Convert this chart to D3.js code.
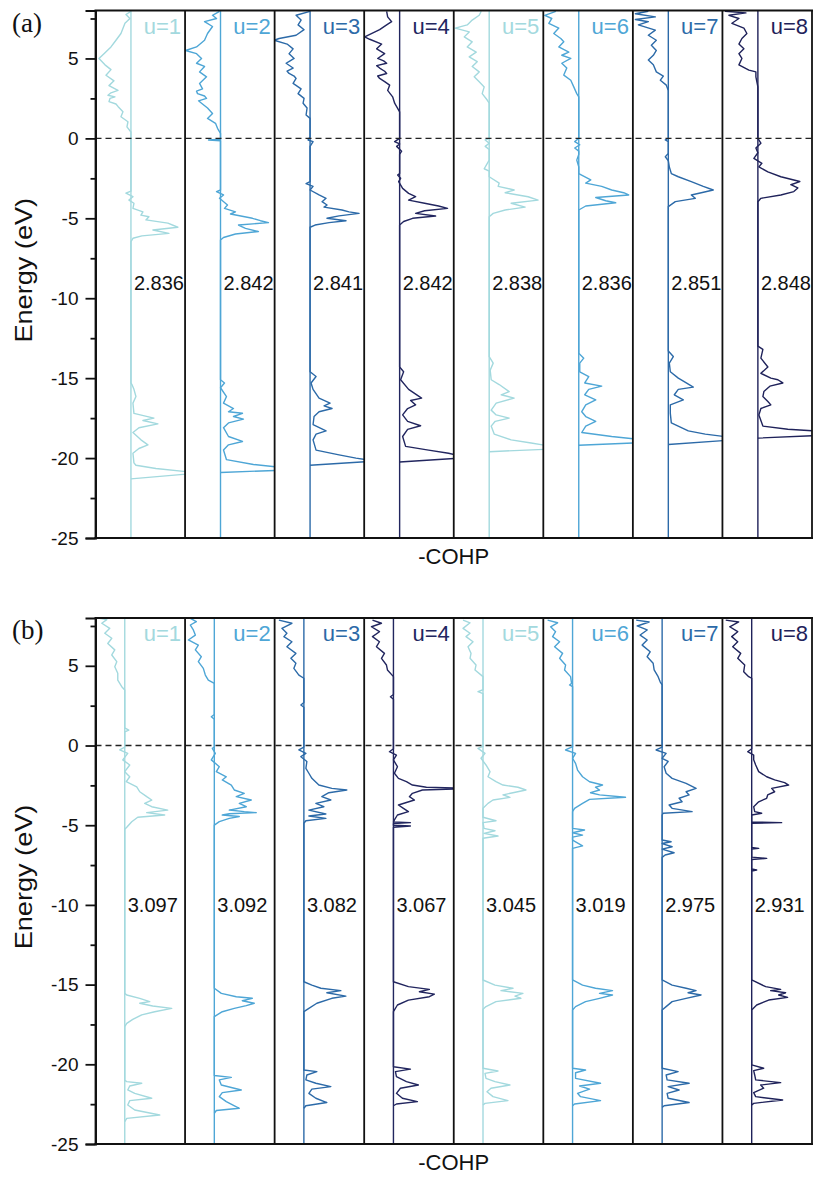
<!DOCTYPE html>
<html>
<head>
<meta charset="utf-8">
<script src="https://cdn.jsdelivr.net/npm/d3@7"></script>
<style>
  body { margin: 0; background: #fff; }
  svg { display: block; }
</style>
</head>
<body>
<svg id="chart" width="813" height="1178"></svg>
<script>
// ---------------- DATA ----------------
const uLabels = ["u=1", "u=2", "u=3", "u=4", "u=5", "u=6", "u=7", "u=8"];
const bondA = ["2.836", "2.842", "2.841", "2.842", "2.838", "2.836", "2.851", "2.848"];
const bondB = ["3.097", "3.092", "3.082", "3.067", "3.045", "3.019", "2.975", "2.931"];
const majorTicks = [-25, -20, -15, -10, -5, 0, 5];
const minorTicks = [-22.5, -17.5, -12.5, -7.5, -2.5, 2.5, 7.5];
const energyDomain = [-25, 8];
const cohpDomainA = [-3.55, 5.42];
const cohpDomainB = [-2.93, 6.04];

// [energy (eV), -COHP] pairs, panel (a)
const cohpA1 = [[7.95,0],[7.75,-0.5],[7.5,-0.1],[7.2,-0.6],[6.56,-1.0],[6.14,-1.5],[5.72,-2.0],[5.3,-2.7],[5.0,-3.2],[4.6,-2.6],[4.3,-2.0],[3.95,-2.5],[3.6,-1.7],[3.3,-2.2],[3.0,-1.3],[2.85,-2.0],[2.7,-2.3],[2.6,-1.6],[2.5,-2.1],[2.3,-2.2],[2.15,-1.5],[2.0,-1.3],[1.66,-0.8],[1.35,-1.0],[1.04,-0.3],[0.72,-0.4],[0.4,0],
 [-3.3,0],[-3.43,-0.5],[-3.65,0.2],[-3.86,-0.2],[-4.06,0.3],[-4.38,0.2],[-4.6,1.2],[-4.8,1.0],[-4.9,1.8],[-5.1,1.5],[-5.3,3.7],[-5.56,4.7],[-5.73,2.2],[-5.94,3.8],[-6.1,1.1],[-6.25,0.2],[-6.46,0],
 [-15.3,0],[-15.4,0.1],[-15.7,0.3],[-16.15,0.5],[-16.56,0.2],[-17.2,0.3],[-17.5,2.3],[-17.65,1.2],[-17.86,2.7],[-18.1,0.8],[-18.4,0.2],[-18.86,1.0],[-19.17,1.7],[-19.4,0.8],[-19.7,0.2],[-20.3,0.3],[-20.45,0.5],[-20.65,2.5],[-20.85,5.5],[-20.95,6.5],[-21.3,0]];
const cohpA2 = [[7.95,-0.1],[7.7,-0.8],[7.5,-0.4],[7.3,-1.6],[7.0,-0.8],[6.56,-1.3],[6.14,-1.6],[5.72,-2.4],[5.5,-3.5],[5.3,-2.4],[5.0,-1.9],[4.7,-2.4],[4.5,-1.6],[4.16,-2.1],[3.85,-1.4],[3.44,-2.1],[3.1,-1.8],[2.95,-2.4],[2.8,-2.3],[2.65,-1.6],[2.5,-1.4],[2.35,-2.2],[2.2,-1.9],[1.9,-1.3],[1.56,-0.8],[1.25,-1.3],[0.94,-0.5],[0.63,-0.3],[0.31,0],[-0.05,0],[-0.1,-1.2],[-0.15,0],
 [-3.23,0],[-3.33,-0.4],[-3.54,0.3],[-3.75,-0.1],[-4.17,0.7],[-4.38,0.4],[-4.6,1.5],[-4.73,1.0],[-5.0,3.2],[-5.15,4.0],[-5.27,4.8],[-5.42,1.8],[-5.63,2.5],[-5.83,3.8],[-5.98,1.5],[-6.2,0.3],[-6.36,0],
 [-15.1,0],[-15.3,0.4],[-15.6,0],[-16.15,0.6],[-16.56,0.3],[-16.9,1.3],[-17.1,0.8],[-17.2,2.2],[-17.4,1.3],[-17.56,2.3],[-17.8,0.8],[-18.1,0.3],[-18.65,0.8],[-18.96,2.2],[-19.17,0.8],[-19.5,0.3],[-20.1,0.6],[-20.4,3.3],[-20.55,5.5],[-20.75,6.5],[-20.9,0]];
const cohpA3 = [[7.95,0],[7.7,-1.4],[7.4,-0.9],[7.1,-1.2],[6.8,-0.6],[6.45,-1.4],[6.25,-3.1],[6.14,-3.6],[5.9,-2.3],[5.6,-1.7],[5.3,-2.1],[5.0,-1.6],[4.85,-2.0],[4.7,-2.4],[4.4,-1.7],[4.2,-2.3],[4.06,-2.1],[3.9,-1.6],[3.75,-1.4],[3.44,-1.7],[3.1,-0.9],[2.8,-1.2],[2.5,-0.6],[2.2,-0.7],[1.9,-0.3],[1.46,-0.4],[1.25,0],[0.1,0],[-0.1,-0.2],[-0.2,0.3],[-0.5,0],
 [-2.7,0],[-2.83,-0.4],[-3.0,0.3],[-3.23,0],[-3.54,0.9],[-3.75,1.6],[-3.96,1.2],[-4.17,1.7],[-4.3,1.4],[-4.48,3.2],[-4.6,3.9],[-4.69,4.9],[-4.85,2.9],[-5.0,1.7],[-5.15,3.6],[-5.27,1.9],[-5.42,0.5],[-5.56,0],
 [-14.6,0],[-14.9,0.6],[-15.3,0.1],[-15.7,0.3],[-16.25,0.9],[-16.56,2.0],[-16.73,1.4],[-16.9,2.2],[-17.1,0.9],[-17.4,0.4],[-17.9,0.3],[-18.3,1.6],[-18.5,0.6],[-18.86,0.3],[-19.5,0.6],[-19.8,2.9],[-20.0,4.6],[-20.1,5.6],[-20.2,6.2],[-20.45,0]];
const cohpA4 = [[7.95,-1.3],[7.6,-1.2],[7.3,-0.8],[7.1,-1.3],[6.8,-2.0],[6.35,-3.5],[6.2,-3.0],[5.9,-1.8],[5.6,-2.3],[5.3,-1.5],[5.0,-2.2],[4.85,-1.6],[4.7,-1.3],[4.55,-2.3],[4.4,-2.0],[4.2,-1.5],[4.06,-1.3],[3.9,-2.2],[3.75,-2.0],[3.55,-1.5],[3.33,-1.0],[3.0,-1.2],[2.6,-0.7],[2.2,-0.5],[1.66,0],[0,0],[-0.2,-0.5],[-0.35,0],[-0.5,-0.3],[-0.8,0.2],[-1.0,0],
 [-2.2,0],[-2.3,-0.2],[-2.5,0.1],[-2.7,-0.1],[-3.13,0.3],[-3.44,0.9],[-3.65,1.6],[-3.86,0.9],[-4.06,2.5],[-4.23,3.9],[-4.38,4.8],[-4.53,2.5],[-4.69,1.6],[-4.86,3.6],[-5.0,1.3],[-5.2,0.4],[-5.42,0],
 [-14.3,0],[-14.6,0.4],[-15.1,0.1],[-15.7,0.9],[-16.25,2.2],[-16.4,1.1],[-16.67,1.6],[-16.9,0.8],[-17.3,0.3],[-17.7,0.8],[-17.98,2.1],[-18.2,0.8],[-18.65,0.3],[-19.27,0.6],[-19.5,2.9],[-19.7,4.9],[-19.85,6.0],[-20.0,6.0],[-20.25,0]];
const cohpA5 = [[7.95,-0.8],[7.7,-1.0],[7.4,-1.7],[7.1,-2.2],[6.9,-3.4],[6.66,-2.0],[6.35,-2.5],[6.04,-1.7],[5.72,-2.2],[5.4,-1.3],[5.1,-2.0],[4.8,-1.2],[4.5,-1.7],[4.16,-1.0],[3.85,-1.5],[3.54,-1.0],[3.22,-0.5],[2.8,-0.7],[2.4,-0.2],[2.2,0],[0,0],[-0.1,-0.4],[-0.3,0],[-0.5,-0.4],[-0.7,0],
 [-1.36,0],[-1.9,-0.5],[-2.05,0],[-2.4,0],[-2.8,1.0],[-3.0,0.9],[-3.23,2.5],[-3.4,1.6],[-3.65,3.9],[-3.86,4.9],[-4.06,2.2],[-4.3,3.6],[-4.48,1.6],[-4.69,0.4],[-4.9,0],
 [-13.65,0],[-14.06,0.4],[-14.5,0.1],[-15.1,0.2],[-15.4,1.0],[-15.84,2.0],[-16.04,1.2],[-16.25,2.5],[-16.56,0.7],[-17.0,0.2],[-17.3,0.7],[-17.5,2.0],[-17.7,0.6],[-18.0,0.2],[-18.5,0.5],[-18.86,2.2],[-19.06,4.2],[-19.2,5.6],[-19.45,5.6],[-19.6,0]];
const cohpA6 = [[7.95,-2.3],[7.7,-3.4],[7.5,-2.7],[7.2,-3.0],[6.9,-2.0],[6.56,-2.5],[6.25,-1.8],[6.04,-1.5],[5.72,-2.0],[5.4,-1.0],[5.2,-1.7],[5.0,-0.8],[4.7,-1.7],[4.4,-1.2],[3.96,-1.5],[3.64,-0.8],[3.22,-0.5],[2.8,-0.2],[2.6,0],[0,0],[-0.2,-0.4],[-0.4,0.1],[-0.6,-0.4],[-0.8,0],[-1.0,0],[-1.36,-0.2],[-1.78,0],[-2.2,0],[-2.6,1.2],[-2.8,0.7],[-3.0,2.3],[-3.23,3.3],[-3.4,4.5],[-3.54,5.0],[-3.7,1.7],[-3.9,2.7],[-4.03,3.7],[-4.23,0.7],[-4.48,0],
 [-13.44,0],[-13.75,0.5],[-14.06,0.1],[-14.6,0.1],[-14.9,1.0],[-15.3,0.6],[-15.5,2.3],[-15.7,1.0],[-16.04,0.6],[-16.36,1.7],[-16.67,0.7],[-17.1,0.3],[-17.4,0.7],[-17.7,1.7],[-18.0,0.7],[-18.4,0.3],[-18.65,3.3],[-18.8,5.6],[-19.05,5.6],[-19.2,0]];
const cohpA7 = [[7.95,-2.0],[7.8,-3.3],[7.6,-1.3],[7.44,-3.3],[7.3,-2.0],[7.1,-3.0],[6.77,-1.3],[6.45,-2.0],[6.14,-1.2],[5.83,-1.7],[5.5,-1.2],[5.2,-1.5],[4.9,-2.0],[4.6,-1.5],[4.16,-1.2],[3.9,-0.5],[3.64,-0.8],[3.33,-0.2],[3.0,0],[0,0],[-0.1,-0.3],[-0.2,0],[-0.94,0],[-1.15,-0.3],[-1.4,0],[-1.78,0.1],[-2.2,0.3],[-2.4,1.0],[-2.7,2.3],[-3.0,3.5],[-3.23,4.5],[-3.4,3.3],[-3.54,2.3],[-3.75,2.7],[-3.96,0.7],[-4.27,0],
 [-13.3,0],[-13.65,0.5],[-14.06,0.1],[-14.6,0.2],[-15.0,1.0],[-15.3,1.8],[-15.56,2.5],[-15.7,1.0],[-16.04,0.6],[-16.36,1.5],[-16.67,0.2],[-17.2,0.2],[-17.8,0.3],[-18.3,2.0],[-18.5,3.7],[-18.65,5.6],[-18.9,5.6],[-19.15,0]];
const cohpA8 = [[7.95,-3.3],[7.85,-1.2],[7.7,-2.9],[7.5,-1.9],[7.2,-2.6],[6.9,-1.4],[6.56,-1.1],[6.25,-1.6],[5.9,-1.9],[5.6,-1.4],[5.3,-1.9],[5.0,-1.6],[4.6,-1.9],[4.27,-0.9],[4.16,-0.2],[3.85,-0.2],[3.22,0],[0,0],[-0.3,0.3],[-0.6,-0.2],[-0.9,0],[-1.25,-0.4],[-1.56,0.4],[-1.78,0.1],[-2.1,1.0],[-2.4,2.3],[-2.7,4.2],[-2.9,3.3],[-3.1,4.0],[-3.33,3.6],[-3.54,2.3],[-3.75,0.3],[-3.96,0],
 [-13.0,0],[-13.2,0.5],[-13.75,0.3],[-14.3,1.0],[-14.7,0.3],[-15.0,1.3],[-15.1,2.0],[-15.3,2.5],[-15.5,1.2],[-15.84,0.6],[-16.15,0.5],[-16.46,1.0],[-16.67,1.3],[-16.9,0.3],[-17.3,0.1],[-18.0,0.5],[-18.2,3.0],[-18.3,5.6],[-18.6,5.6],[-18.75,0]];

// panel (b)
const cohpB1 = [[7.98,-2.5],[7.9,-1.8],[7.67,-2.3],[7.35,-1.5],[7.04,-2.0],[6.73,-1.3],[6.4,-1.7],[6.0,-1.0],[5.68,-1.3],[5.26,-0.8],[4.94,-1.0],[4.53,-0.7],[4.1,-0.7],[3.69,-0.3],[3.48,0],[1.1,0],[0.97,0.4],[0.85,0],[-0.1,0],[-0.28,-0.5],[-0.49,0.3],[-0.9,-0.2],[-1.22,0.5],[-1.64,0],[-1.96,0.5],[-2.27,0.15],[-2.59,1.2],[-2.9,1.5],[-3.21,2.2],[-3.42,2.7],[-3.63,2.0],[-3.84,2.7],[-4.05,4.3],[-4.21,2.2],[-4.36,4.0],[-4.5,1.3],[-4.78,0.7],[-5.13,0.2],[-5.26,0],
 [-15.55,0],[-15.65,0.2],[-15.86,1.5],[-16.07,2.5],[-16.17,1.5],[-16.34,2.8],[-16.49,4.7],[-16.7,3.0],[-16.9,1.7],[-17.18,0.8],[-17.43,0.2],[-17.64,0],
 [-21.0,0],[-21.09,0.2],[-21.19,1.7],[-21.36,0.5],[-21.61,0.3],[-21.82,1.0],[-22.13,2.7],[-22.28,0.5],[-22.55,0.3],[-22.87,1.0],[-23.18,3.5],[-23.39,0.2],[-23.6,0]];
const cohpB2 = [[7.98,-2.4],[7.77,-1.8],[7.56,-2.4],[7.25,-2.1],[6.93,-1.9],[6.62,-2.6],[6.3,-1.6],[6.0,-1.9],[5.57,-1.3],[5.26,-1.6],[4.84,-1.1],[4.42,-0.9],[4.1,-0.6],[3.9,0],[1.95,0],[1.8,-0.3],[1.65,0],[-0.1,0],[-0.18,-0.2],[-0.49,0.1],[-0.9,-0.3],[-1.33,0.5],[-1.64,0.2],[-1.96,1.2],[-2.16,0.8],[-2.48,1.7],[-2.79,2.0],[-3.0,3.0],[-3.21,2.2],[-3.42,3.7],[-3.63,2.5],[-3.84,3.2],[-4.05,1.5],[-4.15,3.0],[-4.21,4.2],[-4.28,1.5],[-4.36,0.8],[-4.45,2.5],[-4.57,1.5],[-4.78,0.5],[-4.99,0],
 [-15.23,0],[-15.55,0.7],[-15.76,2.2],[-15.86,3.8],[-16.01,2.8],[-16.17,4.0],[-16.32,3.2],[-16.49,2.0],[-16.7,0.8],[-17.01,0],
 [-20.7,0],[-20.82,1.7],[-20.98,0.5],[-21.3,0.7],[-21.61,2.7],[-21.78,0.8],[-22.03,0.5],[-22.34,1.2],[-22.76,2.5],[-22.9,0.2],[-23.07,0]];
const cohpB3 = [[7.87,-2.5],[7.67,-1.2],[7.35,-2.2],[7.04,-1.7],[6.83,-2.0],[6.51,-1.2],[6.2,-1.7],[5.78,-0.8],[5.47,-1.3],[5.16,-0.8],[4.84,-1.0],[4.42,-0.5],[4.22,0],[2.7,0],[2.54,-0.3],[2.4,0],[-0.1,0],[-0.28,-0.5],[-0.49,0.2],[-0.7,-0.3],[-1.0,0.3],[-1.43,0.2],[-1.74,0.5],[-2.06,0.8],[-2.48,1.5],[-2.69,2.8],[-2.79,4.3],[-2.96,2.5],[-3.21,1.8],[-3.42,2.7],[-3.63,1.2],[-3.84,2.0],[-4.05,0.5],[-4.3,2.2],[-4.42,0.5],[-4.57,2.2],[-4.72,0.2],[-4.88,0],
 [-14.82,0],[-15.03,0.8],[-15.23,1.7],[-15.38,3.7],[-15.51,2.3],[-15.72,4.2],[-15.86,2.8],[-16.17,1.3],[-16.49,0.5],[-16.7,0],
 [-20.36,0],[-20.46,1.3],[-20.67,0.3],[-20.98,0.2],[-21.19,1.2],[-21.4,2.7],[-21.56,0.8],[-21.82,0.5],[-22.13,1.2],[-22.4,2.3],[-22.6,0.2],[-22.76,0]];
const cohpB4 = [[7.87,-2.1],[7.67,-1.2],[7.45,-2.2],[7.14,-1.4],[6.83,-2.1],[6.51,-1.4],[6.2,-1.7],[5.78,-0.9],[5.47,-1.2],[5.05,-0.7],[4.74,-0.6],[4.32,0],[3.2,0],[3.06,-0.3],[2.9,0],[-0.2,0],[-0.39,-0.4],[-0.6,0.3],[-0.9,0],[-1.33,0.4],[-1.74,0.1],[-2.06,0.5],[-2.27,1.3],[-2.48,1.9],[-2.62,3.3],[-2.66,6.5],[-2.72,6.5],[-2.79,2.9],[-3.0,1.9],[-3.21,1.6],[-3.42,2.1],[-3.73,0.5],[-3.94,1.0],[-4.15,1.5],[-4.36,0.4],[-4.67,0.1],[-4.8,0],[-4.84,1.7],[-4.9,0],[-5.0,0],[-5.05,1.7],[-5.13,0],
 [-14.82,0],[-15.13,1.5],[-15.3,3.6],[-15.45,2.6],[-15.6,4.1],[-15.76,3.6],[-15.97,1.5],[-16.28,0.4],[-16.7,0],
 [-20.15,0],[-20.3,1.7],[-20.46,0.2],[-20.78,0.3],[-21.09,1.3],[-21.3,2.5],[-21.5,0.7],[-21.82,0.3],[-22.13,0.9],[-22.34,2.4],[-22.49,0.3],[-22.6,0]];
const cohpB5 = [[7.87,-2.0],[7.7,-1.3],[7.35,-2.0],[7.04,-1.3],[6.83,-1.7],[6.51,-1.0],[6.2,-1.5],[5.78,-1.2],[5.47,-1.3],[5.05,-0.7],[4.74,-0.8],[4.32,0],[3.5,0],[3.38,-0.5],[3.25,0],[-0.05,0],[-0.18,-0.5],[-0.49,0.2],[-0.8,-0.2],[-1.22,0.3],[-1.64,0.7],[-1.96,0.5],[-2.27,1.3],[-2.48,2.0],[-2.62,3.5],[-2.79,4.3],[-2.96,3.0],[-3.1,2.0],[-3.25,2.7],[-3.42,1.0],[-3.63,0.5],[-3.94,0],[-4.5,0],[-4.72,1.3],[-4.84,0],[-5.2,0.1],[-5.35,1.2],[-5.51,0.1],[-5.68,1.5],[-5.82,0],
 [-14.71,0],[-15.03,1.2],[-15.23,3.0],[-15.38,1.8],[-15.55,4.0],[-15.72,3.2],[-15.86,3.8],[-16.07,1.3],[-16.38,0.3],[-16.55,0],
 [-20.25,0],[-20.42,1.5],[-20.57,0.2],[-20.88,0.3],[-21.09,1.2],[-21.3,2.7],[-21.5,0.8],[-21.72,0.4],[-22.03,1.0],[-22.28,2.5],[-22.45,0.2],[-22.55,0]];
const cohpB6 = [[7.87,-2.5],[7.7,-1.5],[7.45,-2.2],[7.14,-1.7],[6.83,-2.0],[6.51,-1.3],[6.2,-1.8],[5.78,-1.0],[5.47,-1.3],[5.05,-0.7],[4.74,-0.8],[4.32,-0.2],[3.9,-0.1],[3.8,-0.3],[3.7,0],[-0.07,0],[-0.28,-0.7],[-0.49,0.3],[-0.8,0],[-1.12,0.3],[-1.54,0.5],[-1.96,1.0],[-2.27,1.7],[-2.48,3.0],[-2.62,2.3],[-2.79,2.7],[-2.96,1.8],[-3.1,2.7],[-3.25,5.3],[-3.38,1.7],[-3.63,1.0],[-3.94,0.2],[-4.15,0],[-5.2,0],[-5.3,1.2],[-5.47,0],[-5.62,1.0],[-5.75,0],[-5.93,0],[-6.3,1.0],[-6.45,0],
 [-14.71,0],[-15.03,1.0],[-15.23,2.3],[-15.38,4.0],[-15.55,2.7],[-15.65,4.0],[-15.86,2.7],[-16.07,1.3],[-16.38,0.3],[-16.59,0],
 [-20.25,0],[-20.36,1.3],[-20.53,0.3],[-20.88,0.3],[-21.19,2.8],[-21.36,0.7],[-21.56,1.7],[-21.82,0.5],[-22.03,0.8],[-22.28,2.8],[-22.49,0.2],[-22.6,0]];
const cohpB7 = [[7.87,-2.6],[7.75,-1.3],[7.5,-2.5],[7.25,-1.5],[6.93,-2.2],[6.62,-1.5],[6.3,-2.0],[5.88,-1.2],[5.57,-1.5],[5.16,-0.9],[4.74,-0.8],[4.32,-0.4],[4.0,-0.2],[3.8,0],[-0.1,0],[-0.28,-0.6],[-0.49,0.4],[-0.8,0],[-1.0,0.6],[-1.33,0.2],[-1.74,0.4],[-2.06,1.0],[-2.37,2.4],[-2.69,3.4],[-2.9,2.4],[-3.1,2.7],[-3.31,1.7],[-3.53,2.0],[-3.73,0.7],[-3.94,1.0],[-4.15,3.0],[-4.25,0.1],[-4.36,0],[-5.93,0],[-6.04,0.9],[-6.15,0],[-6.35,1.0],[-6.5,0],[-6.73,1.2],[-6.87,0.3],[-7.02,0],
 [-14.71,0],[-15.03,1.0],[-15.23,2.4],[-15.38,3.4],[-15.51,2.6],[-15.65,3.9],[-15.86,2.4],[-16.07,1.0],[-16.38,0.4],[-16.59,0],
 [-20.25,0],[-20.46,1.6],[-20.67,0.4],[-20.98,0.5],[-21.19,2.7],[-21.4,0.6],[-21.61,1.7],[-21.82,0.5],[-22.13,0.6],[-22.4,2.7],[-22.6,0.2],[-22.7,0]];
const cohpB8 = [[7.87,-2.6],[7.75,-1.3],[7.45,-2.2],[7.14,-1.4],[6.83,-2.0],[6.51,-1.4],[6.2,-1.9],[5.78,-1.1],[5.47,-1.4],[5.05,-0.7],[4.63,-0.8],[4.32,-0.3],[4.22,0],[-0.2,0],[-0.39,-0.4],[-0.6,0.2],[-0.9,0.2],[-1.22,0.4],[-1.64,0.7],[-1.96,1.5],[-2.16,2.3],[-2.33,3.3],[-2.48,3.7],[-2.69,2.0],[-2.9,2.3],[-3.1,1.6],[-3.31,1.5],[-3.53,0.7],[-3.84,0.2],[-4.15,0.3],[-4.25,1.0],[-4.36,0],[-4.8,0],[-4.84,3.0],[-4.88,0],[-6.4,0],[-6.45,0.7],[-6.5,0],[-7.0,0],[-7.08,1.5],[-7.15,0],[-7.75,0],[-7.81,0.5],[-7.87,0],
 [-14.71,0],[-15.13,1.4],[-15.3,2.9],[-15.38,1.9],[-15.51,3.4],[-15.65,2.7],[-15.8,3.6],[-15.97,1.7],[-16.28,0.5],[-16.59,0],
 [-20.04,0],[-20.25,1.2],[-20.4,0.2],[-20.67,0.3],[-20.98,0.4],[-21.15,2.9],[-21.3,0.9],[-21.5,1.2],[-21.78,0.2],[-22.03,0.4],[-22.24,3.1],[-22.45,0.2],[-22.55,0]];

const seriesColors = ["#a3d9de", "#4ea6d6", "#2c6aa8", "#22265f", "#a3d9de", "#4ea6d6", "#2c6aa8", "#1f225a"];

// ---------------- DRAW ----------------
const SANS = "'Liberation Sans', Arial, Helvetica, sans-serif";
const SERIF = "'Liberation Serif', 'Times New Roman', serif";
const svg = d3.select("#chart");
const plotLeft = 95.5, plotRight = 812;

const panels = [
  { id: "a", tag: "(a)", top: 10.5, bottom: 538, dom: cohpDomainA, curves: [cohpA1, cohpA2, cohpA3, cohpA4, cohpA5, cohpA6, cohpA7, cohpA8], bonds: bondA, bondE: -9 },
  { id: "b", tag: "(b)", top: 618, bottom: 1144, dom: cohpDomainB, curves: [cohpB1, cohpB2, cohpB3, cohpB4, cohpB5, cohpB6, cohpB7, cohpB8], bonds: bondB, bondE: -10 }
];

const band = d3.scaleBand().domain(d3.range(8)).range([plotLeft, plotRight]).paddingInner(0).paddingOuter(0);
const defs = svg.append("defs");

panels.forEach(p => {
  const g = svg.append("g");
  const y = d3.scaleLinear().domain(energyDomain).range([p.bottom, p.top]);

  p.curves.forEach((data, i) => {
    const x0 = band(i), x1 = x0 + band.bandwidth();
    const x = d3.scaleLinear().domain(p.dom).range([x0, x1]);
    const clipId = `clip-${p.id}-${i}`;
    defs.append("clipPath").attr("id", clipId)
      .append("rect").attr("x", x0).attr("y", p.top).attr("width", x1 - x0).attr("height", p.bottom - p.top);
    const sg = g.append("g").attr("clip-path", `url(#${clipId})`);
    sg.append("line")
      .attr("x1", x(0)).attr("x2", x(0))
      .attr("y1", y(energyDomain[1])).attr("y2", y(energyDomain[0]))
      .attr("stroke", seriesColors[i]).attr("stroke-width", 1.4);
    const line = d3.line().x(d => x(d[1])).y(d => y(d[0]));
    sg.append("path").datum(data)
      .attr("d", line)
      .attr("fill", "none")
      .attr("stroke", seriesColors[i])
      .attr("stroke-width", 1.4)
      .attr("stroke-linejoin", "round");
    g.append("text")
      .attr("x", x1 - 4).attr("y", p.top + 23)
      .attr("text-anchor", "end")
      .style("font-family", SANS)
      .style("font-size", "22px")
      .attr("fill", seriesColors[i])
      .text(uLabels[i]);
    g.append("text")
      .attr("x", x(0) + 3).attr("y", y(p.bondE) + 7.5)
      .style("font-family", SANS)
      .style("font-size", "20px")
      .attr("fill", "#111")
      .text(p.bonds[i]);
  });

  g.append("line")
    .attr("x1", plotLeft).attr("x2", plotRight)
    .attr("y1", y(0)).attr("y2", y(0))
    .attr("stroke", "#222").attr("stroke-width", 1.4)
    .attr("stroke-dasharray", "6,4");

  d3.range(9).forEach(k => {
    const xx = k < 8 ? band(k) : plotRight;
    g.append("line")
      .attr("x1", xx).attr("x2", xx)
      .attr("y1", p.top).attr("y2", p.bottom)
      .attr("stroke", "#111").attr("stroke-width", 1.8);
  });
  g.append("line").attr("x1", plotLeft - 1).attr("x2", plotRight + 1)
    .attr("y1", p.top).attr("y2", p.top).attr("stroke", "#111").attr("stroke-width", 1.8);
  g.append("line").attr("x1", plotLeft - 1).attr("x2", plotRight + 1)
    .attr("y1", p.bottom).attr("y2", p.bottom).attr("stroke", "#111").attr("stroke-width", 2.2);

  const axMajor = d3.axisLeft(y).tickValues(majorTicks).tickSize(10).tickPadding(7).tickFormat(d => String(d));
  const axG = g.append("g").attr("transform", `translate(${plotLeft},0)`).call(axMajor);
  axG.select(".domain").attr("stroke", "#111").attr("stroke-width", 2);
  axG.selectAll(".tick line").attr("stroke", "#111").attr("stroke-width", 1.8);
  axG.selectAll(".tick text").style("font-size", "19px").style("font-family", SANS).attr("fill", "#111");
  const axMinor = d3.axisLeft(y).tickValues(minorTicks).tickSize(5).tickFormat("");
  const axM = g.append("g").attr("transform", `translate(${plotLeft},0)`).call(axMinor);
  axM.select(".domain").remove();
  axM.selectAll(".tick line").attr("stroke", "#111").attr("stroke-width", 1.8);

  const cy = (p.top + p.bottom) / 2 - 4;
  g.append("text")
    .attr("transform", `translate(32,${cy}) rotate(-90) scale(1.18,1)`)
    .attr("text-anchor", "middle")
    .style("font-family", SANS)
    .style("font-size", "23px")
    .attr("fill", "#111")
    .text("Energy (eV)");
  g.append("text")
    .attr("x", (plotLeft + plotRight) / 2).attr("y", p.bottom + 26)
    .attr("text-anchor", "middle")
    .style("font-family", SANS)
    .style("font-size", "22px")
    .attr("fill", "#111")
    .text("-COHP");
  g.append("text")
    .attr("x", 12).attr("y", p.top + 21)
    .style("font-family", SERIF)
    .style("font-size", "27px")
    .attr("fill", "#111")
    .text(p.tag);
});
</script>
</body>
</html>
